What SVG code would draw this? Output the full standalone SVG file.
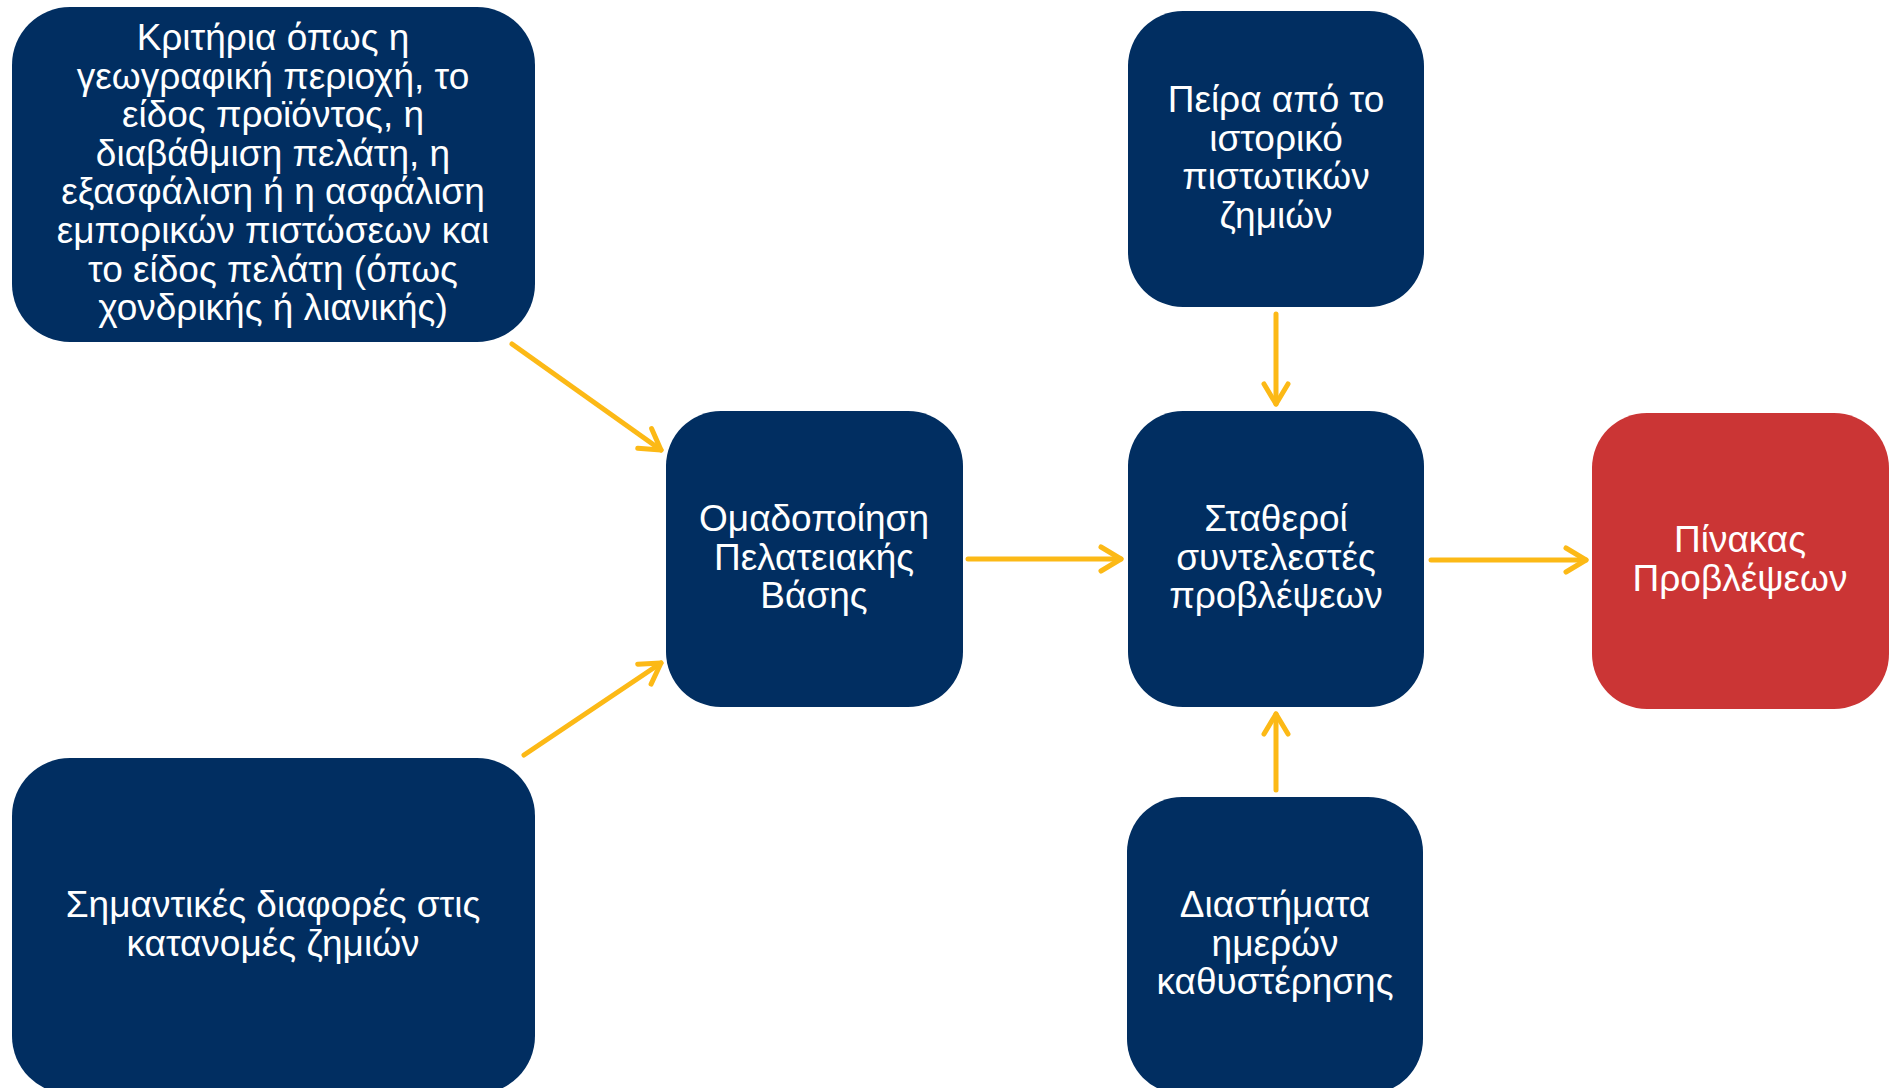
<svg xmlns="http://www.w3.org/2000/svg" width="1893" height="1088" viewBox="0 0 1893 1088">
<defs>
<style>
.box{fill:#012E61;}
.red{fill:#CB3535;}
.t{font-family:"Liberation Sans",Arial,sans-serif;font-size:37px;fill:#FFFFFF;text-anchor:middle;}
.c{stroke:#FCB916;stroke-width:5;fill:none;stroke-linecap:round;marker-end:url(#ah);}
</style>
<marker id="ah" markerUnits="userSpaceOnUse" viewBox="-26 -16 30 32" refX="0" refY="0" markerWidth="30" markerHeight="32" orient="auto" overflow="visible">
<path d="M-20,-12 L0,0 L-20,12" fill="none" stroke="#FCB916" stroke-width="5" stroke-linecap="round" stroke-linejoin="round"/>
</marker>
</defs>
<rect width="1893" height="1088" fill="#FFFFFF"/>
<g id="connectors">
<line class="c" x1="512" y1="344" x2="661" y2="450"/>
<line class="c" x1="524" y1="755" x2="661" y2="663"/>
<line class="c" x1="968" y1="559" x2="1121" y2="559"/>
<line class="c" x1="1276" y1="314" x2="1276" y2="404"/>
<line class="c" x1="1276" y1="790" x2="1276" y2="714"/>
<line class="c" x1="1431" y1="560" x2="1586" y2="560"/>
</g>
<g id="n1">
<rect class="box" x="12" y="7" width="523" height="335" rx="58"/>
<text class="t"><tspan x="273" y="50">Κριτήρια όπως η</tspan><tspan x="273" y="88.6">γεωγραφική περιοχή, το</tspan><tspan x="273" y="127.2">είδος προϊόντος, η</tspan><tspan x="273" y="165.8">διαβάθμιση πελάτη, η</tspan><tspan x="273" y="204.4">εξασφάλιση ή η ασφάλιση</tspan><tspan x="273" y="243">εμπορικών πιστώσεων και</tspan><tspan x="273" y="281.6">το είδος πελάτη (όπως</tspan><tspan x="273" y="320.2">χονδρικής ή λιανικής)</tspan></text>
</g>
<g id="n2">
<rect class="box" x="12" y="758" width="523" height="336" rx="58"/>
<text class="t"><tspan x="273" y="917">Σημαντικές διαφορές στις</tspan><tspan x="273" y="955.6">κατανομές ζημιών</tspan></text>
</g>
<g id="n3">
<rect class="box" x="666" y="411" width="297" height="296" rx="55"/>
<text class="t"><tspan x="814" y="531">Ομαδοποίηση</tspan><tspan x="814" y="569.6">Πελατειακής</tspan><tspan x="814" y="608.2">Βάσης</tspan></text>
</g>
<g id="n4">
<rect class="box" x="1128" y="11" width="296" height="296" rx="55"/>
<text class="t"><tspan x="1276" y="112">Πείρα από το</tspan><tspan x="1276" y="150.6">ιστορικό</tspan><tspan x="1276" y="189.2">πιστωτικών</tspan><tspan x="1276" y="227.8">ζημιών</tspan></text>
</g>
<g id="n5">
<rect class="box" x="1128" y="411" width="296" height="296" rx="55"/>
<text class="t"><tspan x="1276" y="531">Σταθεροί</tspan><tspan x="1276" y="569.6">συντελεστές</tspan><tspan x="1276" y="608.2">προβλέψεων</tspan></text>
</g>
<g id="n6">
<rect class="box" x="1127" y="797" width="296" height="297" rx="55"/>
<text class="t"><tspan x="1275" y="917">Διαστήματα</tspan><tspan x="1275" y="955.6">ημερών</tspan><tspan x="1275" y="994.2">καθυστέρησης</tspan></text>
</g>
<g id="n7">
<rect class="red" x="1592" y="413" width="297" height="296" rx="55"/>
<text class="t"><tspan x="1740" y="552">Πίνακας</tspan><tspan x="1740" y="590.6">Προβλέψεων</tspan></text>
</g>
</svg>
